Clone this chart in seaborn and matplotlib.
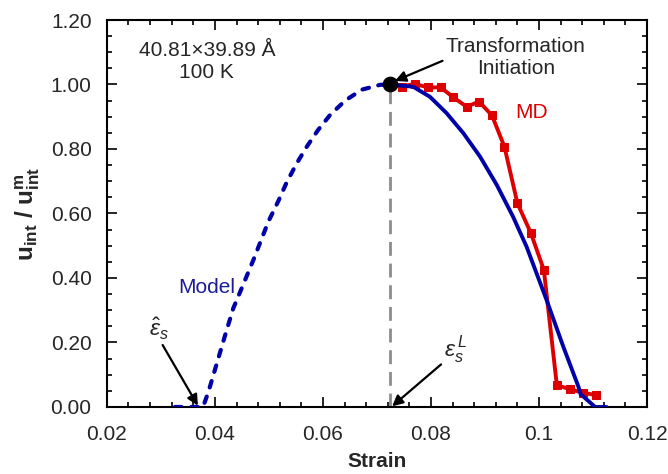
import matplotlib
matplotlib.use("Agg")
import matplotlib.pyplot as plt
import seaborn as sns
import pandas as pd

# Model prediction before transformation initiation (dashed branch)
model_pre_strain = [0.0326, 0.0378, 0.0388, 0.0419, 0.0434, 0.0452, 0.0471,
                    0.0499, 0.0517, 0.0533, 0.0551, 0.0570, 0.0591, 0.0613,
                    0.0641, 0.0672, 0.0706, 0.0724]
model_pre_u = [0.0, 0.0, 0.047, 0.223, 0.306, 0.378, 0.455,
               0.575, 0.637, 0.697, 0.754, 0.807, 0.859, 0.905,
               0.950, 0.984, 0.999, 1.0]

# Model prediction after transformation initiation (solid branch)
model_post_strain = [0.0724, 0.0767, 0.0798, 0.0829, 0.0860, 0.0891, 0.0922,
                     0.0952, 0.0977, 0.1014, 0.1045, 0.1073, 0.1077, 0.1104,
                     0.1125]
model_post_u = [1.0, 0.993, 0.962, 0.911, 0.849, 0.776, 0.688,
                0.590, 0.497, 0.332, 0.187, 0.063, 0.040, 0.0,
                0.0]

# Molecular dynamics results
md_strain = [0.0724, 0.0746, 0.0770, 0.0794, 0.0818, 0.0840, 0.0866, 0.0889,
             0.0913, 0.0936, 0.0960, 0.0985, 0.1009, 0.1033, 0.1057, 0.1082,
             0.1105]
md_u = [1.000, 0.993, 1.002, 0.991, 0.991, 0.962, 0.931, 0.947,
        0.904, 0.807, 0.632, 0.539, 0.425, 0.068, 0.055, 0.044,
        0.037]

# Transformation initiation point
init_strain = [0.0724]
init_u = [1.0]

x_ticks = [0.02, 0.04, 0.06, 0.08, 0.10, 0.12]
x_ticklabels = ["0.02", "0.04", "0.06", "0.08", "0.1", "0.12"]
y_ticks = [0.0, 0.2, 0.4, 0.6, 0.8, 1.0, 1.2]
y_ticklabels = ["0.00", "0.20", "0.40", "0.60", "0.80", "1.00", "1.20"]

sns.set_theme(style="ticks")
plt.rcParams["font.family"] = ["Liberation Sans", "DejaVu Sans"]
plt.rcParams["mathtext.fontset"] = "custom"
plt.rcParams["mathtext.rm"] = "Liberation Sans"
plt.rcParams["mathtext.it"] = "Liberation Sans:italic"
plt.rcParams["mathtext.bf"] = "Liberation Sans:bold"

BLUE = "#0000a8"
RED = "#dd0000"
GRAY = "#8c8c8c"

fig = plt.figure(figsize=(6.68, 4.74), dpi=100)
ax = fig.add_axes([0.160, 0.1414, 0.8086, 0.8164])

pre = pd.DataFrame({"strain": model_pre_strain, "u": model_pre_u})
post = pd.DataFrame({"strain": model_post_strain, "u": model_post_u})
md = pd.DataFrame({"strain": md_strain, "u": md_u})
init = pd.DataFrame({"strain": init_strain, "u": init_u})

# vertical guide at the initiation strain
ax.plot([init_strain[0], init_strain[0]], [0.0, init_u[0]], color=GRAY,
        lw=2.0, dashes=(5, 2.8), zorder=2)

sns.lineplot(data=md, x="strain", y="u", ax=ax, sort=False, estimator=None,
             color=RED, lw=2.8, marker="s", markersize=6,
             markeredgecolor=RED, zorder=3)
sns.lineplot(data=pre, x="strain", y="u", ax=ax, sort=False, estimator=None,
             color=BLUE, lw=3.0, linestyle=(0, (1.6, 2.3)),
             dash_capstyle="round", zorder=4)
sns.lineplot(data=post, x="strain", y="u", ax=ax, sort=False, estimator=None,
             color=BLUE, lw=2.8, zorder=4)
sns.scatterplot(data=init, x="strain", y="u", ax=ax, color="black", s=110,
                edgecolor="black", zorder=6)

ax.set_xlim(0.02, 0.12)
ax.set_ylim(0.0, 1.2)
ax.set_xticks(x_ticks)
ax.set_xticklabels(x_ticklabels)
ax.set_yticks(y_ticks)
ax.set_yticklabels(y_ticklabels)
ax.xaxis.set_minor_locator(matplotlib.ticker.MultipleLocator(0.004))
ax.yaxis.set_minor_locator(matplotlib.ticker.MultipleLocator(0.05))
ax.tick_params(which="both", direction="in", top=True, right=True,
               width=1.2, color="black", labelsize=15)
ax.tick_params(which="major", length=7)
ax.tick_params(which="minor", length=3.6)
ax.tick_params(axis="x", pad=13)
ax.tick_params(axis="y", pad=11)
for sp in ax.spines.values():
    sp.set_linewidth(1.5)
    sp.set_color("black")

ax.set_xlabel("Strain", fontsize=15, fontweight="bold", labelpad=6)
ax.set_ylabel(r"$\mathbf{u_{int}\ /\ u^{m}_{int}}$", fontsize=17.5, labelpad=6)

ax.text(0.03852, 1.07, "40.81\u00d739.89 \u00c5\n100 K", ha="center",
        va="center", fontsize=15, linespacing=1.2)
ax.text(0.0987, 0.912, "MD", ha="center", va="center", fontsize=15, color=RED)
ax.text(0.0385, 0.369, "Model", ha="center", va="center", fontsize=15,
        color="#1c1c96")

arrow = dict(arrowstyle="-|>", color="black", lw=1.6, mutation_scale=16,
             shrinkA=0, shrinkB=0)
ax.annotate("Transformation\nInitiation", xy=(0.07333, 1.011),
            xytext=(0.0957, 1.084), ha="center", va="center", fontsize=15,
            linespacing=1.15, arrowprops=dict(arrow, relpos=(0.0, 0.45)))
ax.annotate(r"$\hat{\varepsilon}_s$", xy=(0.03685, 0.004),
            xytext=(0.0296, 0.243), ha="center", va="center", fontsize=16.5,
            arrowprops=dict(arrow, relpos=(0.6, 0.0)))
ax.annotate(r"$\varepsilon_s^{\,L}$", xy=(0.0728, 0.002),
            xytext=(0.0846, 0.18), ha="center", va="center", fontsize=16.5,
            arrowprops=dict(arrow, relpos=(0.0, 0.1)))

fig.savefig("out.png", dpi=100)
